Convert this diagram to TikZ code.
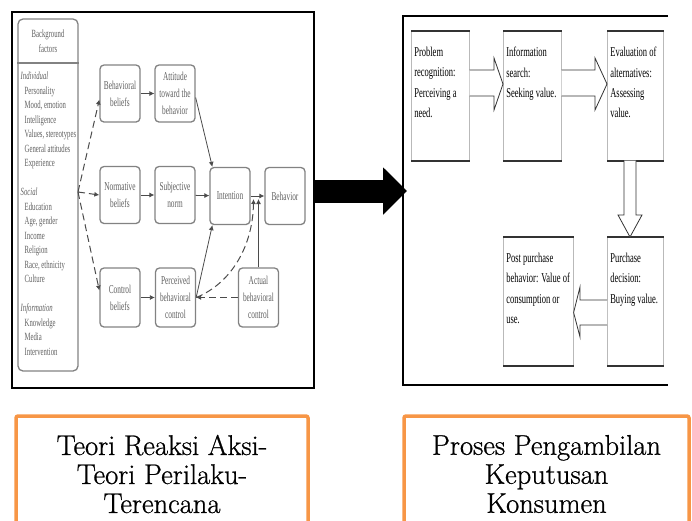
\documentclass[tikz,border=0pt]{standalone}
\usepackage{fontspec}
\usepackage{tikz}
\usetikzlibrary{arrows.meta,positioning}

\newfontfamily\tpbfont[FakeStretch=0.61]{Liberation Serif}
\newfontfamily\stagefont[FakeStretch=0.63]{Liberation Serif}
\newfontfamily\labelfont[FakeBold=0.8]{Latin Modern Roman}

\definecolor{boxgray}{RGB}{130,130,130}
\definecolor{txtgray}{RGB}{95,95,95}
\definecolor{arrgray}{RGB}{75,75,75}
\definecolor{labelorange}{RGB}{247,150,70}

% isi kotak tahap: teks rata kiri atas
\newcommand{\stagetext}[3]{\parbox[c][#2][t]{#1}{\vspace*{13pt}\raggedright #3}}

\tikzset{
  tpbbox/.style={draw=boxgray, line width=1.3pt, rounded corners=4pt, text=txtgray,
    align=center, minimum width=40pt, minimum height=57pt, inner sep=1pt,
    font=\tpbfont\fontsize{12}{17}\selectfont},
  solidarr/.style={draw=arrgray, line width=0.8pt, -{Latex[length=5pt,width=5pt]}},
  dasharr/.style={draw=arrgray, line width=1pt, dash pattern=on 7pt off 4pt,
    -{Latex[length=5pt,width=5pt]}},
  stagebox/.style={draw=gray!55, line width=0.6pt, inner sep=3pt, anchor=north west,
    font=\stagefont\fontsize{13.5}{20.3}\selectfont},
  labelbox/.style={draw=labelorange, line width=3.5pt, rounded corners=2pt, align=center,
    font=\labelfont\fontsize{28.5}{29}\selectfont},
  bigarrow/.style={line width=23pt, -{Triangle[length=24pt,width=46pt]}},
  blockarr/.style={draw=black!80, line width=0.8pt, fill=white}
}

\begin{document}
\begin{tikzpicture}[x=1pt, y=-1pt]
        \clip (0,0) rectangle (692,520);

        % panel kiri: theory of reasoned action / planned behavior
        \node[draw, line width=2.5pt, minimum width=302pt, minimum height=376pt] (tpbpanel) at (163,200) {};

        \node[draw=boxgray, line width=1.3pt, rounded corners=5pt, minimum width=60pt, minimum height=352pt] (bg) at (48,195) {};
        \draw[boxgray, line width=1.3pt] (bg.west |- 0,63) -- (bg.east |- 0,63);
        \node[text=txtgray, align=center, font=\tpbfont\fontsize{11}{14.5}\selectfont] (bghead) at (48,41) {Background\\factors};
        \node[text=txtgray, align=left, anchor=north west, inner sep=0pt,
              font=\tpbfont\fontsize{11}{14.5}\selectfont] (bglist) at (20.5,72) {%
            \textit{Individual}\\
            \hspace*{4pt}Personality\\
            \hspace*{4pt}Mood, emotion\\
            \hspace*{4pt}Intelligence\\
            \hspace*{4pt}Values, stereotypes\\
            \hspace*{4pt}General attitudes\\
            \hspace*{4pt}Experience\\[14.5pt]
            \textit{Social}\\
            \hspace*{4pt}Education\\
            \hspace*{4pt}Age, gender\\
            \hspace*{4pt}Income\\
            \hspace*{4pt}Religion\\
            \hspace*{4pt}Race, ethnicity\\
            \hspace*{4pt}Culture\\[14.5pt]
            \textit{Information}\\
            \hspace*{4pt}Knowledge\\
            \hspace*{4pt}Media\\
            \hspace*{4pt}Intervention};

        \node[tpbbox] (bb)  at (120,93.5)  {Behavioral\\beliefs};
        \node[tpbbox] (att) at (175,93.5)  {Attitude\\toward the\\behavior};
        \node[tpbbox] (nb)  at (120,195)   {Normative\\beliefs};
        \node[tpbbox] (sn)  at (175,195)   {Subjective\\norm};
        \node[tpbbox] (int) at (230,196)   {Intention};
        \node[tpbbox] (beh) at (285,196)   {Behavior};
        \node[tpbbox, minimum height=59pt] (cb)  at (120,297.5) {Control\\beliefs};
        \node[tpbbox, minimum height=59pt] (pbc) at (175.5,297.5) {Perceived\\behavioral\\control};
        \node[tpbbox, minimum height=59pt] (abc) at (258.5,297.5) {Actual\\behavioral\\control};

        \coordinate (bgfork) at (78,192);
        \coordinate (jA) at (258.5,199);
        \coordinate (jB) at (253.5,199);

        % panah putus-putus dari background factors
        \draw[dasharr] (bgfork) -- ([yshift=-6pt]bb.west);
        \draw[dasharr] (bgfork) -- (nb.west);
        \draw[dasharr] (bgfork) -- ([yshift=7pt]cb.west);

        \draw[solidarr] (bb) -- (att);
        \draw[solidarr] (nb) -- (sn);
        \draw[solidarr] (cb) -- (pbc);
        \draw[solidarr] (sn) -- (int);
        \draw[solidarr] (int) -- (beh);
        \draw[solidarr] ([yshift=-4pt]att.east) -- ([xshift=3pt]int.north west);
        \draw[solidarr] (pbc.east) -- ([xshift=3pt]int.south west);
        \draw[solidarr] (abc.north) -- (jA);
        \draw[dasharr] (pbc.east) .. controls (232,283) and (253,245) .. (jB);
        \draw[dasharr] (abc.west) -- (pbc.east);

        % panel kanan: proses keputusan konsumen
        \coordinate (rpw) at (403,191);
        \draw[line width=2.5pt] (668,16) -- (403,16) -- (403,385) -- (668,385);
        \draw[bigarrow] (tpbpanel.east |- rpw) -- ([xshift=4pt]rpw);

        \node[stagebox] (pr) at (411,31)  {\stagetext{52pt}{123pt}{Problem\\recognition:\\Perceiving a\\need.}};
        \node[stagebox] (is) at (503,31)  {\stagetext{52pt}{123pt}{Information\\search:\\Seeking value.}};
        \node[stagebox] (ev) at (607,31)  {\stagetext{50pt}{123pt}{Evaluation of\\alternatives:\\Assessing\\value.}};
        \node[stagebox] (pd) at (607,237) {\stagetext{50pt}{122pt}{Purchase\\decision:\\Buying value.}};
        \node[stagebox] (pp) at (503,237) {\stagetext{64pt}{122pt}{Post purchase\\behavior: Value of\\consumption or\\use.}};
        \foreach \n in {pr,is,ev,pd,pp}
            \draw[black!80, line width=2.2pt] (\n.north west) -- (\n.north east) (\n.south west) -- (\n.south east);

        \draw[blockarr] (pr.east |- 0,70) -- (494,70) -- (494,58) -- (is.west |- 0,84)
            -- (494,110) -- (494,96) -- (pr.east |- 0,96);
        \draw[blockarr] (is.east |- 0,70) -- (595,70) -- (595,58) -- (ev.west |- 0,84)
            -- (595,110) -- (595,96) -- (is.east |- 0,96);
        \draw[blockarr] (624,0 |- ev.south) -- (624,215) -- (618,215) -- (630,0 |- pd.north)
            -- (642,215) -- (636,215) -- (636,0 |- ev.south);
        \draw[blockarr] (pd.west |- 0,300) -- (580,300) -- (580,287) -- (pp.east |- 0,312.5)
            -- (580,337) -- (580,325) -- (pd.west |- 0,325);

        % label bawah
        \node[labelbox, minimum width=292pt, minimum height=116pt] (lbl1) at (162,474)
            {Teori Reaksi Aksi-\\Teori Perilaku-\\Terencana};
        \node[labelbox, minimum width=285pt, minimum height=116pt] (lbl2) at (546.5,474)
            {Proses Pengambilan\\Keputusan\\Konsumen};
    \end{tikzpicture}
\end{document}
